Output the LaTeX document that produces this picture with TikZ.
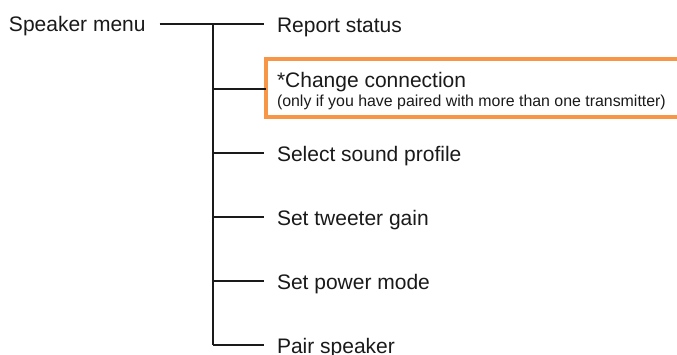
\documentclass[tikz,border=0pt]{standalone}
\usepackage{fontspec}
\setmainfont{Liberation Sans}
\definecolor{boxorange}{HTML}{F79646}
\definecolor{ink}{HTML}{1A1A1A}
\begin{document}
\begin{tikzpicture}[x=1pt,y=-1pt,
  lbl/.style={anchor=base west, inner sep=0pt, outer xsep=13pt, outer ysep=0pt,
              text=ink, font=\fontsize{21}{25}\selectfont},
  smalllbl/.style={anchor=base west, inner sep=0pt, outer sep=0pt,
              text=ink, font=\fontsize{15.9}{19}\selectfont},
  conn/.style={draw=ink, line width=1.5pt},
  hilite/.style={draw=boxorange, line width=4pt, fill=white, anchor=north west,
              minimum width=440pt, minimum height=58pt, inner sep=0pt, outer sep=0pt}]
\clip (0,0) rectangle (677,354);
\fill[white] (0,0) rectangle (677,354);
% junctions on the vertical trunk
\coordinate (j1) at (213,24);
\coordinate (j2) at (213,89);
\coordinate (j3) at (213,153);
\coordinate (j4) at (213,217);
\coordinate (j5) at (213,281);
\coordinate (j6) at (213,345);
% nodes
\node[lbl, outer xsep=14pt] (menu) at (-5,31) {Speaker menu};
\node[lbl] (report) at (264,32) {Report status};
\node[hilite] (box) at (266,59) {};
\node[smalllbl, font=\fontsize{21}{25}\selectfont] (change) at (277,87) {*Change connection};
\node[smalllbl] (note) at (277,106) {(only if you have paired with more than one transmitter)};
\node[lbl] (sound) at (264,161) {Select sound profile};
\node[lbl] (tweet) at (264,225) {Set tweeter gain};
\node[lbl] (power) at (264,289) {Set power mode};
\node[lbl] (pair) at (264,353) {Pair speaker};
% connectors
\draw[conn] (menu.east |- j1) -- (j1) -- (report.west |- j1);
\draw[conn] (j1) -- (j6);
\draw[conn] (j2) -- (j2 -| box.west);
\draw[conn] (j3) -- (j3 -| sound.west);
\draw[conn] (j4) -- (j4 -| tweet.west);
\draw[conn] (j5) -- (j5 -| power.west);
\draw[conn] (j6) -- (j6 -| pair.west);
\end{tikzpicture}
\end{document}
